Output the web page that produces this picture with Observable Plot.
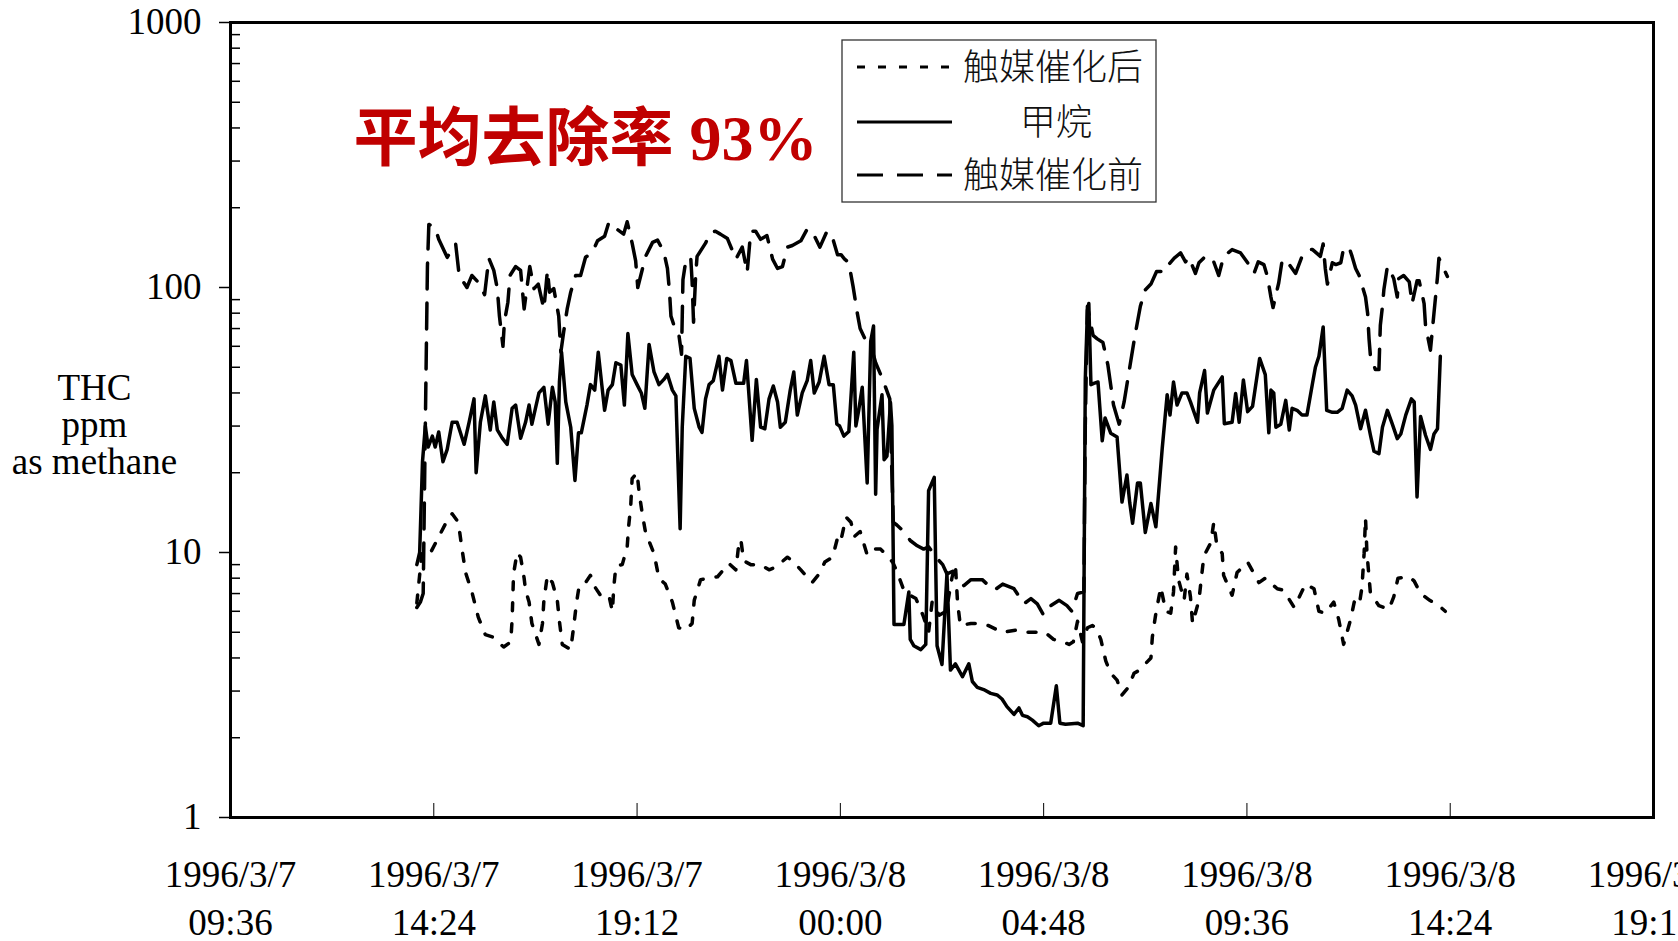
<!DOCTYPE html>
<html><head><meta charset="utf-8">
<script src="https://cdn.jsdelivr.net/npm/d3@7"></script>
<script src="https://cdn.jsdelivr.net/npm/@observablehq/plot@0.6"></script>
<style>
html,body{margin:0;padding:0;background:#fff;overflow:hidden}
#chart{position:relative;width:1678px;height:941px}
</style></head><body><div id="chart"></div>
<script>
// ---- data ----
const seriesNames = ["触媒催化后", "甲烷", "触媒催化前"];
const startTime = "1996-03-07T14:00:00Z"; // minutes below are counted from this time

const afterMin = [0,7,17,41,50,57,60,64,69,78,87,97,107,123,133,135,136,137,142,147,152,154,159,163,173,178,180,185,192,199,202,206,218,222,226,230,239,246,251,260,272,277,279,282,291,298,300,303,305,312,315,319,324,336,343,352,362,371,381,390,393,402,414,426,442,452,456,459,463,473,487,499,508,525,532,544,560,570,578,589,598,602,608,615,620,628,638,646,657,668,674,680,690,695,707,717,725,730,740,750,758,763,766,770,785,792,810,829,850,865,879,890,902,915,924,930,936,943,950,957,962,969,976,983,992,999,1008,1016,1024,1032,1040,1042,1047,1054,1061,1068,1072,1075,1079,1087,1091,1096,1099,1108,1111,1115,1125,1129,1133,1141,1143,1155,1162,1177,1193,1202,1219,1228,1243,1259,1271,1278,1287,1299,1306,1313,1323,1328,1335,1339,1342,1344,1346,1351,1363,1377,1384,1390,1406,1413,1422,1435,1448,1457];
const afterVal = [6.45,9.9,9.7,12.9,14.0,13.2,12.3,10.3,8.4,7.1,5.7,4.9,4.8,4.4,4.6,5.6,6.8,8.3,10.0,9.6,8.0,7.2,6.5,5.4,4.5,5.4,6.6,8.2,7.7,6.6,5.5,4.5,4.3,5.2,6.4,7.5,7.7,8.2,7.5,6.9,6.9,6.0,7.4,8.9,9.0,10.5,12.5,15,19,20,16.8,14.2,11.9,9.9,8.0,7.6,6.5,5.2,5.1,5.4,6.6,7.9,8.0,8.1,9.1,8.6,10.7,11.2,9.3,9.0,9.0,8.6,8.8,9.6,9.3,8.6,7.7,8.3,9.2,9.6,11.9,11.5,13.6,13,11.5,12,9.8,10.3,10.3,9.6,9.2,8.5,7.2,7.0,6.7,5.8,5.0,6.5,5.8,6.0,8.0,9.0,6.5,5.3,5.4,5.4,5.3,5.0,5.1,5.0,5.0,5.0,4.7,4.6,4.5,4.6,5.5,4.6,5.2,5.3,5.2,4.7,3.9,3.5,3.3,2.9,3.1,3.5,3.6,3.8,4.0,4.8,5.9,7.4,6.0,5.9,7.1,10.5,7.9,6.6,8.3,6.8,5.4,6.6,7.8,9.7,10.9,13.0,10.8,9.9,8.2,6.9,8.4,9.2,7.7,8.0,7.3,7.2,6.2,7.6,7.3,6.0,5.9,6.5,5.6,4.5,5.6,6.5,6.3,7.4,9.9,13.5,10,7.0,6.3,6.1,6.8,8.0,8.1,7.8,7.0,6.6,6.3,6.0];

const methaneMin = [0,4,8,12,16,22,26,31,37,43,50,57,67,74,81,84,90,97,104,109,114,121,128,135,140,147,154,159,163,168,173,180,186,192,196,199,202,205,211,218,224,229,233,241,246,252,257,262,266,271,277,282,289,294,299,305,312,318,323,329,336,343,350,355,362,367,370,373,376,381,387,393,400,404,409,414,420,428,433,439,445,452,459,463,467,470,475,481,487,493,499,505,511,515,522,529,534,539,546,553,558,563,570,577,584,590,595,599,605,612,619,622,626,631,638,643,647,650,652,659,662,666,671,673,676,690,697,699,704,714,721,725,733,737,744,751,756,763,773,782,787,794,803,813,822,829,836,846,853,858,865,872,881,888,898,906,911,919,936,944,947,950,952,955,959,965,971,975,983,992,999,1006,1010,1014,1021,1025,1032,1040,1047,1056,1063,1067,1072,1077,1084,1091,1096,1106,1109,1116,1120,1129,1141,1144,1155,1160,1165,1171,1177,1184,1194,1202,1207,1210,1214,1217,1224,1231,1236,1240,1247,1254,1261,1269,1273,1278,1284,1289,1297,1304,1311,1318,1325,1330,1337,1344,1351,1356,1363,1368,1375,1382,1389,1394,1401,1409,1413,1417,1422,1429,1436,1441,1446,1450];
const methaneVal = [9.0,10,22,30,25,27.5,25,28.5,22,24.5,31,31,25.6,31,38,20,31,39,29,37,29,27,25.6,35,36,27,31,36,30.5,35,40,42,30.5,42,37,21.7,44,57,37,29.7,18.7,28.3,28.3,36,43,41,57,43,34.4,41,43,52,51,36,67,47,43,40,35,61,48,43,45,47,41,39,21.7,12.3,29.7,55,54,35,29.7,28.4,38,43,44.5,55,41,54,53,43.5,43.5,43.5,53,41,26.5,45,29.7,29.3,38,42.5,37,29.7,31,41,48,33,40,44.5,53,40,44,55,43,43,30.5,30,27.5,28.6,57,30,34.4,42,18.3,62.7,71.6,16.6,29.2,39.4,22.4,23.1,36.8,30.1,5.35,5.35,7.1,4.7,4.45,4.3,4.5,17.1,19.2,4.45,3.78,8.3,3.6,3.8,3.4,3.8,3.26,3.1,3.04,2.94,2.9,2.8,2.62,2.45,2.59,2.43,2.4,2.33,2.22,2.27,2.27,3.14,2.27,2.25,2.27,2.22,45,82,87,43,43.5,44,26.4,32.2,28.2,27.3,15.5,19.6,15.4,12.9,18.3,18.3,11.9,15.3,12.5,24.7,39.4,33,44,36,40,40,37,31,40,48.6,33.6,41,46,30.6,31,39.8,31,44.8,34,35.6,54,46.9,28.3,41,40,29.7,30.5,37.5,29,35,34.4,33,33,43.6,50,55,71,34.4,33.8,33.8,35,41,39,36,29.3,34.4,27.7,24.1,23.6,29.7,34.4,30.5,26.9,28,33,38,37,16.2,32.6,27.7,24.5,28,29.3,55];

const beforeMin = [0,5,9,12,15,17,26,31,43,55,60,71,78,88,96,102,109,114,117,122,124,129,132,140,147,152,160,166,172,180,185,188,194,201,204,208,213,218,225,232,239,248,256,266,272,282,293,298,305,310,313,324,334,341,350,355,358,360,365,371,375,377,381,388,390,392,395,397,409,416,423,430,440,452,461,468,473,480,487,496,504,511,518,525,532,544,553,560,571,581,589,596,601,606,612,618,624,628,640,645,650,660,670,675,680,690,699,709,718,725,737,745,751,760,775,785,801,810,818,830,846,860,870,879,888,898,910,921,928,936,945,947,950,954,958,964,972,979,987,995,1002,1010,1017,1025,1032,1040,1048,1061,1065,1073,1082,1089,1094,1103,1108,1117,1123,1129,1136,1143,1155,1167,1177,1186,1192,1200,1205,1210,1213,1221,1226,1231,1238,1245,1254,1264,1269,1280,1284,1287,1290,1297,1302,1309,1313,1321,1325,1330,1335,1344,1347,1349,1351,1358,1363,1365,1368,1370,1375,1382,1384,1389,1391,1398,1406,1410,1417,1420,1427,1429,1436,1441,1446,1448,1460];
const beforeVal = [6.2,6.5,7,30,120,173,168,152,130,146,111,100,111,104,94,129,116,99,78,60,74,88,111,120,116,83,120,99,103,83,116,96,99,78,57,68,83,96,111,111,130,135,150,156,176,167,159,177,147,126,100,131,148,151,136,118,96,78,71,67,56,107,126,130,105,74,111,131,147,161,163,159,153,128,142,114,163,163,152,157,128,118,120,142,144,150,166,163,142,163,154,133,133,128,124,101,80,70,60,58,52,45,38,13,12.7,12,11.1,10.6,10.3,10.5,9.5,9.0,8.3,8.5,7.5,7.9,7.9,7.5,7.2,7.6,7.3,6.4,6.7,6.4,5.8,6.3,6.6,6.3,6.0,7.0,7.1,30,85,75,66,64,62,51,36,30.5,37,50,65,85,98,103,115,115,122,129,135,125,130,113,124,131,125,125,111,131,139,135,124,113,125,122,110,92,84,104,127,127,120,113,131,139,139,131,146,118,103,124,122,124,141,141,131,118,111,92,80,64,55,49,49,72,85,98,120,111,108,92,108,111,105,87,106,106,87,72,58,80,110,129,110];

const tickTimes = ["1996-03-07T09:36:00Z","1996-03-07T14:24:00Z","1996-03-07T19:12:00Z","1996-03-08T00:00:00Z","1996-03-08T04:48:00Z","1996-03-08T09:36:00Z","1996-03-08T14:24:00Z","1996-03-08T19:12:00Z"];
const yTicks = [1, 10, 100, 1000];
const yMinorTicks = [2,3,4,5,6,7,8,9,20,30,40,50,60,70,80,90,200,300,400,500,600,700,800,900];
const yTitle = "THC\nppm\nas methane";
const annotation = "平均去除率 93%";

// ---- build ----
const t0 = new Date(startTime);
function build(name, mins, vals) {
  return mins.map((m, i) => ({series: name, time: new Date(+t0 + m * 60000), value: vals[i]}));
}
const after = build(seriesNames[0], afterMin, afterVal);
const methane = build(seriesNames[1], methaneMin, methaneVal);
const before = build(seriesNames[2], beforeMin, beforeVal);
const tickDates = tickTimes.map(s => new Date(s));

const W = 1678, H = 941, mL = 230, mR = 25, mT = 22, mB = 124;
const fw = W - mL - mR, fh = H - mT - mB;
const serif = "'Liberation Serif','Times New Roman',serif";
const dashBefore = "26,14", dashAfter = "8,13";
const lw = 3.5;

const plot = Plot.plot({
  width: W, height: H,
  marginLeft: mL, marginRight: mR, marginTop: mT, marginBottom: mB,
  style: {fontFamily: serif, background: "#fff", color: "#000", overflow: "visible"},
  x: {type: "utc", domain: [tickDates[0], tickDates[tickDates.length - 1]]},
  y: {type: "log", domain: [1, 1000]},
  marks: [
    Plot.axisY({ticks: yTicks, anchor: "left", tickSize: 11, tickPadding: 18, fontSize: 37,
      tickFormat: d => String(d), label: null, strokeWidth: 1.5}),
    Plot.tickY(yMinorTicks, {y: d => d, insetRight: fw - 10, stroke: "#000", strokeWidth: 1.5}),
    Plot.axisX({ticks: tickDates, anchor: "bottom", tickSize: 0, tickPadding: 35, fontSize: 37,
      lineHeight: 1.3, tickFormat: d3.utcFormat("%Y/%-m/%-d\n%H:%M"), label: null}),
    Plot.tickX(tickDates.slice(1, -1), {x: d => d, insetTop: fh - 14, stroke: "#000", strokeWidth: 1}),
    Plot.line(before, {x: "time", y: "value", stroke: "#000", strokeWidth: lw, strokeDasharray: dashBefore}),
    Plot.line(methane, {x: "time", y: "value", stroke: "#000", strokeWidth: lw}),
    Plot.line(after, {x: "time", y: "value", stroke: "#000", strokeWidth: lw, strokeDasharray: dashAfter}),
    Plot.frame({stroke: "#000", strokeWidth: 3}),
    Plot.text([yTitle], {frameAnchor: "left", dx: -136, dy: 5, textAnchor: "middle",
      fontSize: 37, lineHeight: 1.0, fill: "#000"}),
    Plot.text([annotation], {frameAnchor: "top-left", dx: 123, dy: 92, textAnchor: "start",
      fontSize: 64, fontWeight: "bold", fill: "#c00000",
      fontFamily: "'Liberation Serif','Noto Sans CJK SC',serif"})
  ]
});

// ---- legend drawn inside the svg ----
const svg = d3.select(plot);
const lx = 842, ly = 40, lwid = 314, lh = 162;
const defs = svg.append("defs");
defs.append("clipPath").attr("id", "legclip").append("rect")
  .attr("x", lx).attr("y", ly).attr("width", lwid).attr("height", lh);
const lg = svg.append("g");
lg.append("rect").attr("x", lx).attr("y", ly).attr("width", lwid).attr("height", lh)
  .attr("fill", "#fff").attr("stroke", "#333").attr("stroke-width", 1.3);
const rows = [
  {name: seriesNames[0], dash: dashAfter, y: 67, anchor: "start", tx: 963},
  {name: seriesNames[1], dash: null, y: 122, anchor: "middle", tx: 1056},
  {name: seriesNames[2], dash: dashBefore, y: 175, anchor: "start", tx: 963}
];
const inner = lg.append("g").attr("clip-path", "url(#legclip)");
rows.forEach(r => {
  const ln = inner.append("line").attr("x1", 857).attr("x2", 952).attr("y1", r.y).attr("y2", r.y)
    .attr("stroke", "#000").attr("stroke-width", 3);
  if (r.dash) ln.attr("stroke-dasharray", r.dash);
  inner.append("text").attr("x", r.tx).attr("y", r.y).attr("dy", "0.36em")
    .attr("text-anchor", r.anchor)
    .style("font-family", "'Noto Sans CJK SC',sans-serif").style("font-size", "36px")
    .style("font-weight", "300")
    .attr("fill", "#111").text(r.name);
});

document.getElementById("chart").appendChild(plot);
</script>
</body></html>
